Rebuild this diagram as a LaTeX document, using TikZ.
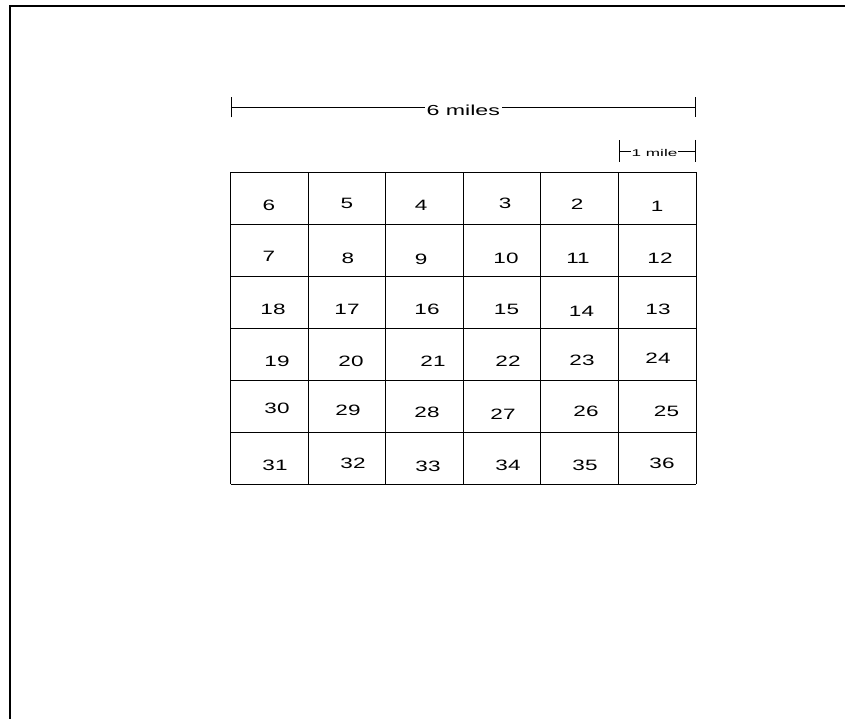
\documentclass[tikz,border=0pt]{standalone}
\usepackage{fontspec}
\setmainfont{Liberation Sans}[FakeStretch=1.6]
\newfontfamily\milefont{Liberation Sans}[FakeStretch=1.75]
\newfontfamily\numfont{Liberation Sans}[FakeStretch=1.5]
\usetikzlibrary{arrows.meta}

\begin{document}
\begin{tikzpicture}[
  x=1pt, y=-1pt,
  num/.style={font=\numfont\fontsize{15}{17}\selectfont, inner sep=0pt},
  gridline/.style={line width=0.85pt, draw=black},
  dimline/.style={line width=0.6pt},
  dimlabel/.style={fill=white, inner sep=1.5pt}
]
\useasboundingbox (0,0) rectangle (845,719);

% page frame
\draw[line width=2pt] (10,719) -- (10,6.5) -- (845,6.5);

% scale bars
\coordinate (sixL) at (230.5,107.5);
\coordinate (sixR) at (696,107.5);
\draw[dimline, {Bar[width=20pt]}-{Bar[width=20pt]}] (sixL) -- node[dimlabel, yshift=-3pt, font=\fontsize{14.5}{16}\selectfont] (six) {6 miles} (sixR);
\coordinate (oneL) at (619,151);
\coordinate (oneR) at (696,151);
\draw[dimline, {Bar[width=22pt]}-{Bar[width=22pt]}] (oneL) -- node[dimlabel, inner sep=1pt, yshift=-1.5pt, xshift=-3pt, font=\milefont\fontsize{9.8}{11}\selectfont] (one) {1 mile} (oneR);

% township grid
\foreach \i in {0,...,6} {
  \draw[gridline] (230.5+77.6*\i,172.3) -- (230.5+77.6*\i,484.3);
  \draw[gridline] (230.5,172.3+52*\i) -- (696,172.3+52*\i);
}

% section numbers
\foreach \n/\px/\py in {
  6/269/205, 5/347/203.5, 4/421/205, 3/505/203.5, 2/577/204, 1/657/206.5,
  7/269/256.5, 8/348/258.5, 9/421/259.5, 10/506/258.5, 11/578/258.5, 12/660/258.5,
  18/273/309.5, 17/347/309.5, 16/427/309.5, 15/506.5/309.5, 14/581.5/311.5, 13/658/309.5,
  19/277/361.5, 20/351/361.5, 21/433/361.5, 22/508/361.5, 23/582/360, 24/658/358.5,
  30/277/408.5, 29/348/410.5, 28/427/412.5, 27/503/414.5, 26/586/411, 25/666.5/411,
  31/275/465, 32/353/463, 33/428/466, 34/508/465.5, 35/585/465, 36/662/463}
  \node[num] (n\n) at (\px,\py) {\n};
\end{tikzpicture}
\end{document}
